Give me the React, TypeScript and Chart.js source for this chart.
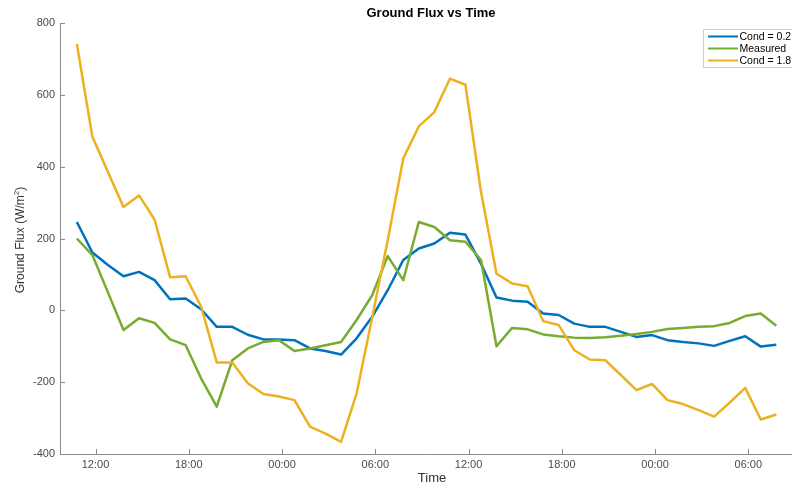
import { useEffect, useRef } from "react";
import { Chart, registerables } from "chart.js";

Chart.register(...registerables);

// Time in hours since 00:00 of day 1 (hourly samples)
const HOURS = [
  10.8, 11.8, 12.8, 13.8, 14.8, 15.8, 16.8, 17.8, 18.8, 19.8,
  20.8, 21.8, 22.8, 23.8, 24.8, 25.8, 26.8, 27.8, 28.8, 29.8,
  30.8, 31.8, 32.8, 33.8, 34.8, 35.8, 36.8, 37.8, 38.8, 39.8,
  40.8, 41.8, 42.8, 43.8, 44.8, 45.8, 46.8, 47.8, 48.8, 49.8,
  50.8, 51.8, 52.8, 53.8, 54.8, 55.8,
];

const COND_02 = [
  246, 161, 126, 95, 107, 84, 31, 33, 3, -46,
  -46, -68, -81, -81, -83, -106, -113, -123, -78, -18,
  56, 140, 172, 186, 216, 211, 130, 36, 27, 24,
  -9, -13, -37, -46, -46, -60, -74, -69, -83, -88,
  -92, -99, -85, -72, -101, -96,
];

const MEASURED = [
  200, 154, 50, -55, -22, -35, -81, -97, -190, -268,
  -139, -106, -88, -83, -113, -106, -97, -88, -27, 42,
  151, 84, 246, 232, 195, 191, 140, -100, -49, -53,
  -67, -72, -76, -77, -75, -71, -66, -60, -52, -49,
  -46, -44, -35, -16, -9, -43,
];

const COND_18 = [
  742, 483, 385, 288, 320, 253, 92, 95, 10, -145,
  -145, -203, -233, -240, -250, -324, -343, -366, -231, -20,
  195, 423, 512, 552, 645, 628, 330, 102, 75, 67,
  -30, -41, -111, -137, -139, -180, -222, -205, -250, -261,
  -278, -296, -257, -216, -304, -290,
];

const TICK_HOURS = [12, 18, 24, 30, 36, 42, 48, 54];
const TICK_LABELS = ["12:00", "18:00", "00:00", "06:00", "12:00", "18:00", "00:00", "06:00"];
const SERIES_NAMES = ["Cond = 0.2", "Measured", "Cond = 1.8"];
const SERIES_COLORS = ["#0072BD", "#77AC30", "#EDB120"];

const FONT = '"Liberation Sans", Arial, Helvetica, sans-serif';
const AXIS_COLOR = "#8a8a8a";
const TICK_COLOR = "#4a4a4a";

export default function App() {
  const ref = useRef<HTMLCanvasElement>(null);

  useEffect(() => {
    const canvas = ref.current;
    if (!canvas) return;

    const overlay = {
      id: "overlay",
      afterDraw(chart: any) {
        const ctx = chart.ctx as CanvasRenderingContext2D;
        const xs = chart.scales.x;
        const ys = chart.scales.y;
        const area = chart.chartArea;
        ctx.save();

        // inward tick marks
        ctx.strokeStyle = AXIS_COLOR;
        ctx.lineWidth = 1;
        ctx.beginPath();
        for (const t of TICK_HOURS) {
          const px = Math.round(xs.getPixelForValue(t)) + 0.5;
          ctx.moveTo(px, area.bottom);
          ctx.lineTo(px, area.bottom - 5);
        }
        for (const tk of ys.ticks) {
          const py = Math.round(ys.getPixelForValue(tk.value)) + 0.5;
          ctx.moveTo(area.left, py);
          ctx.lineTo(area.left + 5, py);
        }
        ctx.stroke();

        // title
        ctx.fillStyle = "#000";
        ctx.textAlign = "center";
        ctx.textBaseline = "middle";
        ctx.font = `bold 13px ${FONT}`;
        ctx.fillText("Ground Flux vs Time", 431, 13);

        // x axis title
        ctx.fillStyle = "#333";
        ctx.font = `13px ${FONT}`;
        ctx.fillText("Time", 432, 478);

        // y axis title with superscript
        ctx.save();
        ctx.translate(21, 240);
        ctx.rotate(-Math.PI / 2);
        ctx.textAlign = "left";
        const p1 = "Ground Flux (W/m";
        const p2 = "2";
        const p3 = ")";
        ctx.font = `12px ${FONT}`;
        const w1 = ctx.measureText(p1).width;
        const w3 = ctx.measureText(p3).width;
        ctx.font = `8px ${FONT}`;
        const w2 = ctx.measureText(p2).width;
        const total = w1 + w2 + w3;
        const x0 = -total / 2;
        ctx.font = `12px ${FONT}`;
        ctx.fillText(p1, x0, 0);
        ctx.font = `8px ${FONT}`;
        ctx.fillText(p2, x0 + w1, -4);
        ctx.font = `12px ${FONT}`;
        ctx.fillText(p3, x0 + w1 + w2, 0);
        ctx.restore();

        // legend
        const lx = 703.5;
        const ly = 29.5;
        ctx.fillStyle = "#fff";
        ctx.fillRect(lx, ly, 100, 38);
        ctx.strokeStyle = "#cfcfcf";
        ctx.lineWidth = 1;
        ctx.strokeRect(lx, ly, 100, 38);
        ctx.font = `10.5px ${FONT}`;
        ctx.textAlign = "left";
        ctx.textBaseline = "middle";
        chart.data.datasets.forEach((ds: any, i: number) => {
          const y = 36.5 + i * 12;
          ctx.strokeStyle = ds.borderColor;
          ctx.lineWidth = 2;
          ctx.beginPath();
          ctx.moveTo(708, y);
          ctx.lineTo(738, y);
          ctx.stroke();
          ctx.fillStyle = "#000";
          ctx.fillText(ds.label, 739.5, y + 0.5);
        });

        ctx.restore();
      },
    };

    const seriesData = [COND_02, MEASURED, COND_18];
    const orders = [3, 2, 1];

    const chart = new Chart(canvas, {
      type: "line",
      data: {
        datasets: seriesData.map((vals, si) => ({
          label: SERIES_NAMES[si],
          data: HOURS.map((h, i) => ({ x: h, y: vals[i] })),
          borderColor: SERIES_COLORS[si],
          backgroundColor: SERIES_COLORS[si],
          borderWidth: 2.5,
          pointRadius: 0,
          tension: 0,
          fill: false,
          order: orders[si],
          borderJoinStyle: "round" as const,
        })),
      },
      options: {
        responsive: false,
        animation: false,
        devicePixelRatio: 1,
        layout: { padding: { top: 23, right: 0, left: 0, bottom: 0 } },
        plugins: {
          legend: { display: false },
          title: { display: false },
          tooltip: { enabled: false },
        },
        scales: {
          x: {
            type: "linear",
            min: 9.716,
            max: 56.81,
            afterBuildTicks: (s: any) => {
              s.ticks = TICK_HOURS.map((v) => ({ value: v }));
            },
            ticks: {
              callback: (_v: any, idx: number) => TICK_LABELS[idx] ?? "",
              autoSkip: false,
              maxRotation: 0,
              padding: 4,
              color: TICK_COLOR,
              font: { family: FONT, size: 11 },
            },
            grid: { display: false, drawTicks: false },
            border: { display: true, color: AXIS_COLOR, width: 1 },
            afterFit: (s: any) => {
              s.height = 30;
            },
          },
          y: {
            type: "linear",
            min: -400,
            max: 800,
            ticks: {
              stepSize: 200,
              padding: 5,
              color: TICK_COLOR,
              font: { family: FONT, size: 11 },
            },
            grid: { display: false, drawTicks: false },
            border: { display: true, color: AXIS_COLOR, width: 1 },
            afterFit: (s: any) => {
              s.width = 60;
            },
          },
        },
      },
      plugins: [overlay],
    });

    return () => chart.destroy();
  }, []);

  return (
    <div style={{ position: "fixed", left: 0, top: 0, width: 792, height: 484, background: "#fff" }}>
      <canvas ref={ref} width={792} height={484} style={{ width: 792, height: 484, display: "block" }} />
    </div>
  );
}
